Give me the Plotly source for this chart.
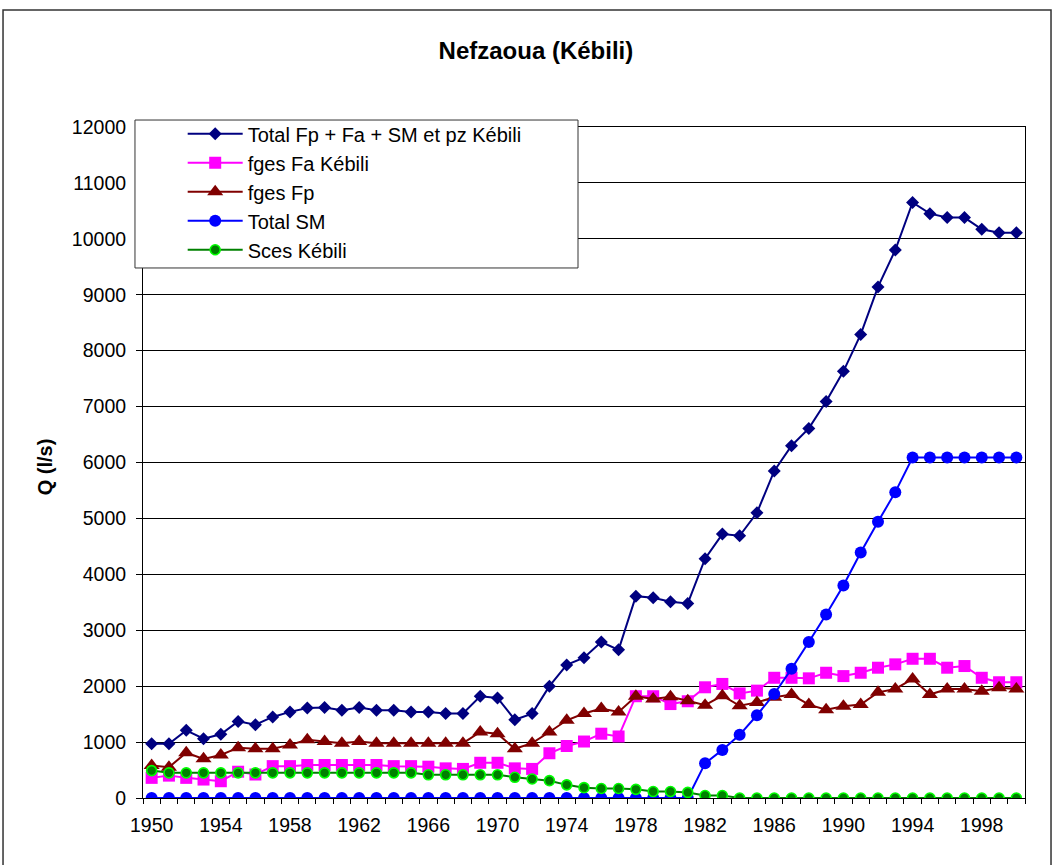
import plotly.graph_objects as go

# Years of record
years = list(range(1950, 2001))

# Discharge Q (l/s) per source
total_fp_fa_sm = [970, 970, 1210, 1060, 1140, 1370, 1310, 1450, 1540, 1610,
                  1620, 1570, 1620, 1570, 1570, 1540, 1540, 1510, 1510, 1820,
                  1790, 1400, 1510, 2000, 2380, 2510, 2790, 2650, 3610, 3580,
                  3510, 3480, 4280, 4720, 4690, 5100, 5850, 6300, 6610, 7090,
                  7630, 8290, 9140, 9800, 10650, 10450, 10380, 10380, 10170, 10110,
                  10110]
fges_fa = [360, 400, 360, 330, 300, 470, 420, 570, 570, 590,
           590, 590, 590, 590, 570, 570, 560, 530, 520, 630,
           630, 530, 520, 800, 930, 1010, 1150, 1100, 1820, 1820,
           1680, 1730, 1980, 2040, 1870, 1920, 2150, 2150, 2140, 2240,
           2180, 2240, 2330, 2390, 2490, 2490, 2330, 2360, 2150, 2070,
           2070]
fges_fp = [580, 550, 810, 700, 770, 900, 880, 880, 950, 1040,
           1010, 980, 1010, 980, 980, 980, 980, 980, 980, 1180,
           1150, 880, 980, 1180, 1390, 1510, 1600, 1540, 1820, 1770,
           1810, 1740, 1660, 1830, 1650, 1710, 1800, 1850, 1670, 1580,
           1640, 1670, 1890, 1950, 2130, 1850, 1950, 1950, 1910, 1970,
           1950]
total_sm = [0] * 32 + [620, 860, 1130, 1480, 1860, 2310, 2790, 3280, 3800,
                       4390, 4940, 5470, 6090, 6090, 6090, 6090, 6090, 6090, 6090]
sces = [490, 450, 450, 450, 450, 450, 450, 450, 450, 450,
        450, 450, 450, 450, 450, 450, 415, 415, 415, 415,
        415, 370, 340, 310, 235, 185, 170, 170, 155, 115,
        115, 100, 45, 45] + [0] * 17

series = [
    ("Total Fp + Fa + SM et pz Kébili", total_fp_fa_sm, "#000080",
     dict(symbol="diamond", size=10, color="#000080")),
    ("fges Fa Kébili", fges_fa, "#FF00FF",
     dict(symbol="square", size=12, color="#FF00FF")),
    ("fges Fp", fges_fp, "#800000",
     dict(symbol="triangle-up", size=14, color="#800000")),
    ("Total SM", total_sm, "#0000FF",
     dict(symbol="circle", size=12, color="#0000FF")),
    ("Sces Kébili", sces, "#008000",
     dict(symbol="circle", size=10, color="#008000",
          line=dict(color="#00FF00", width=1.6))),
]

fig = go.Figure()
for name, vals, col, mk in series:
    fig.add_trace(go.Scatter(
        x=years, y=vals, name=name, mode="lines+markers",
        line=dict(color=col, width=2), marker=mk,
    ))

FONT = "Liberation Sans, Arial, sans-serif"

# Chart frame and legend box
fig.add_shape(type="rect", xref="paper", yref="paper",
              x0=-0.1587, x1=1.0295, y0=-0.12, y1=1.1744,
              line=dict(color="#333333", width=1.5), fillcolor="rgba(0,0,0,0)",
              layer="below")
fig.add_shape(type="rect", xref="paper", yref="paper",
              x0=-0.0091, x1=0.4932, y0=0.7899, y1=1.0104,
              line=dict(color="#333333", width=1), fillcolor="white",
              layer="above")

fig.add_annotation(text="<b>Q (l/s)</b>", xref="paper", yref="paper",
                   x=-0.111, y=0.493, textangle=-90, showarrow=False,
                   font=dict(family=FONT, size=20, color="black"),
                   xanchor="center", yanchor="middle")

fig.update_layout(
    width=1055, height=865,
    margin=dict(l=143, r=30, t=127, b=67),
    paper_bgcolor="white", plot_bgcolor="white",
    font=dict(family=FONT, color="black"),
    title=dict(text="<b>Nefzaoua (Kébili)</b>", x=0.508, xref="container",
               xanchor="center", y=0.941, yref="container", yanchor="middle",
               font=dict(family=FONT, size=24, color="black")),
    showlegend=True,
    legend=dict(x=0.045, y=1.019, xanchor="left", yanchor="top",
                bgcolor="rgba(0,0,0,0)", borderwidth=0,
                font=dict(family=FONT, size=20, color="black"),
                itemwidth=55, tracegroupgap=0),
    xaxis=dict(
        range=[1949.5, 2000.5], tickmode="array",
        tickvals=list(range(1950, 2000, 4)),
        ticks="", showgrid=False, zeroline=False,
        showline=True, linecolor="black", linewidth=1, mirror=True,
        tickfont=dict(family=FONT, size=19.5, color="black"),
        ticklabelstandoff=10,
        minor=dict(tickmode="linear", tick0=1949.5, dtick=1, ticks="outside",
                   ticklen=5, tickcolor="black", tickwidth=1, showgrid=False),
    ),
    yaxis=dict(
        range=[0, 12000], tickmode="linear", tick0=0, dtick=1000,
        tickformat="d",
        ticks="outside", ticklen=6, tickcolor="black",
        showgrid=True, gridcolor="black", gridwidth=1, zeroline=False,
        showline=True, linecolor="black", linewidth=1, mirror=True,
        tickfont=dict(family=FONT, size=19.5, color="black"),
        ticklabelstandoff=6,
    ),
)

fig.write_html("out.html")
